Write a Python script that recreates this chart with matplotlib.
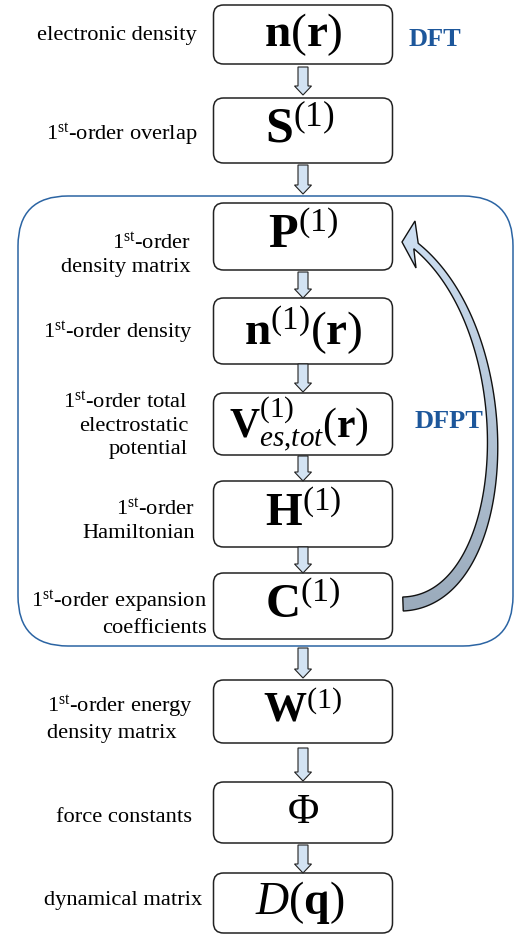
import matplotlib
matplotlib.use("Agg")
import matplotlib.pyplot as plt
import numpy as np
from matplotlib.patches import FancyBboxPatch, FancyArrow, PathPatch
from matplotlib.path import Path
from matplotlib.colors import LinearSegmentedColormap

plt.rcParams['font.family'] = ['Liberation Serif', 'DejaVu Serif']
plt.rcParams['mathtext.fontset'] = 'custom'
plt.rcParams['mathtext.rm'] = 'Liberation Serif'
plt.rcParams['mathtext.bf'] = 'Liberation Serif:bold'
plt.rcParams['mathtext.it'] = 'Liberation Serif:italic'

# flowchart content
box_labels = [r'$\mathbf{n}(\mathbf{r})$',
              r'$\mathbf{S}^{(1)}$',
              r'$\mathbf{P}^{(1)}$',
              r'$\mathbf{n}^{(1)}(\mathbf{r})$',
              r'$\mathbf{V}^{(1)}_{es{,}tot}(\mathbf{r})$',
              r'$\mathbf{H}^{(1)}$',
              r'$\mathbf{C}^{(1)}$',
              r'$\mathbf{W}^{(1)}$',
              r'$\Phi$',
              r'$D(\mathbf{q})$']
side_labels = ['electronic density',
               '1$^{\\mathrm{st}}$-order overlap',
               '1$^{\\mathrm{st}}$-order\ndensity matrix',
               '1$^{\\mathrm{st}}$-order density',
               '1$^{\\mathrm{st}}$-order total\nelectrostatic\npotential',
               '1$^{\\mathrm{st}}$-order\nHamiltonian',
               '1$^{\\mathrm{st}}$-order expansion\ncoefficients',
               '1$^{\\mathrm{st}}$-order energy\ndensity matrix',
               'force constants',
               'dynamical matrix']
stage_labels = ['DFT', 'DFPT']

# layout (pixel units, y downwards)
box_top = [5, 98, 203, 298, 393, 481, 573, 680, 782, 873]
box_bot = [64, 163, 270, 364, 455, 547, 639, 743, 843, 933]
box_x0, box_x1 = 213.5, 392.5
box_fs = [34, 36, 35, 34, 30, 34, 35, 31, 31, 33]
box_dx = [0, -3, 0, 0, -4, 0, 0, 0, 0, -3]
label_x = [197, 198, 191, 193, 188, 195, 207, 47, 192, 202]
label_ha = ['right'] * 7 + ['left'] + ['right'] * 2
label_dy = [1, 4, 18, 2, 1, 7, 7, 7, 5, -2]
arrows = [(67, 95), (165, 194), (272, 298), (364, 392), (456, 481),
          (547, 573), (648, 678), (748, 781), (845, 873)]
blue = '#1d579b'

fig = plt.figure(figsize=(5.25, 9.34), dpi=100)
ax = fig.add_axes([0, 0, 1, 1])

# DFPT loop frame
ax.add_patch(FancyBboxPatch((18, 196), 495, 450,
                            boxstyle='round,pad=0,rounding_size=50',
                            fc='none', ec='#2b64a3', lw=1.1))

for i, lab in enumerate(box_labels):
    t, b = box_top[i], box_bot[i]
    ax.add_patch(FancyBboxPatch((box_x0, t), box_x1 - box_x0, b - t,
                                boxstyle='round,pad=0,rounding_size=10',
                                fc='white', ec='#222222', lw=1.1))
    ax.text((box_x0 + box_x1) / 2 + box_dx[i], (t + b) / 2, lab,
            fontsize=box_fs[i], ha='center', va='center')
    ax.text(label_x[i], (t + b) / 2 + label_dy[i], side_labels[i],
            fontsize=16.2, ha=label_ha[i], va='center',
            multialignment=label_ha[i], linespacing=1.3)

for y0, y1 in arrows:
    ax.add_patch(FancyArrow(303, y0, 0, y1 - y0, width=10, head_width=17,
                            head_length=9, length_includes_head=True,
                            fc='#d3e3f3', ec='#222222', lw=0.8))

ax.text(435, 40, stage_labels[0], fontsize=19, fontweight='bold',
        color=blue, ha='center', va='center')
ax.text(449, 422, stage_labels[1], fontsize=19, fontweight='bold',
        color=blue, ha='center', va='center')

# curved feedback arrow C(1) -> P(1)
P = np.array([[403, 604], [515, 600], [525, 335], [416, 246]], float)
t = np.linspace(0, 1, 120)[:, None]
c = ((1 - t) ** 3 * P[0] + 3 * (1 - t) ** 2 * t * P[1]
     + 3 * (1 - t) * t ** 2 * P[2] + t ** 3 * P[3])
d = (3 * (1 - t) ** 2 * (P[1] - P[0]) + 6 * (1 - t) * t * (P[2] - P[1])
     + 3 * t ** 2 * (P[3] - P[2]))
d = d / np.linalg.norm(d, axis=1, keepdims=True)
n = np.column_stack([d[:, 1], -d[:, 0]])
w = (14 - 7 * t) / 2
side_a = c + n * w
side_b = c - n * w
if side_a[-1, 1] > side_b[-1, 1]:
    side_a, side_b = side_b, side_a
head = np.array([[415, 221], [402, 242], [416, 268]], float)
verts = np.vstack([side_a, head, side_b[::-1], side_a[:1]])
codes = [Path.MOVETO] + [Path.LINETO] * (len(verts) - 2) + [Path.CLOSEPOLY]
loop = PathPatch(Path(verts, codes), fc='none', ec='#111111', lw=1.0, zorder=3)
ax.add_patch(loop)
cmap = LinearSegmentedColormap.from_list('arr', ['#cfe1f4', '#9aaabb'])
grad = np.linspace(0, 1, 256)[:, None]
img = ax.imshow(grad, cmap=cmap, extent=(395, 520, 615, 215), aspect='auto',
                zorder=2)
img.set_clip_path(loop)

ax.set_xlim(0, 525)
ax.set_ylim(934, 0)
ax.axis('off')
fig.savefig('out.png', dpi=100)
